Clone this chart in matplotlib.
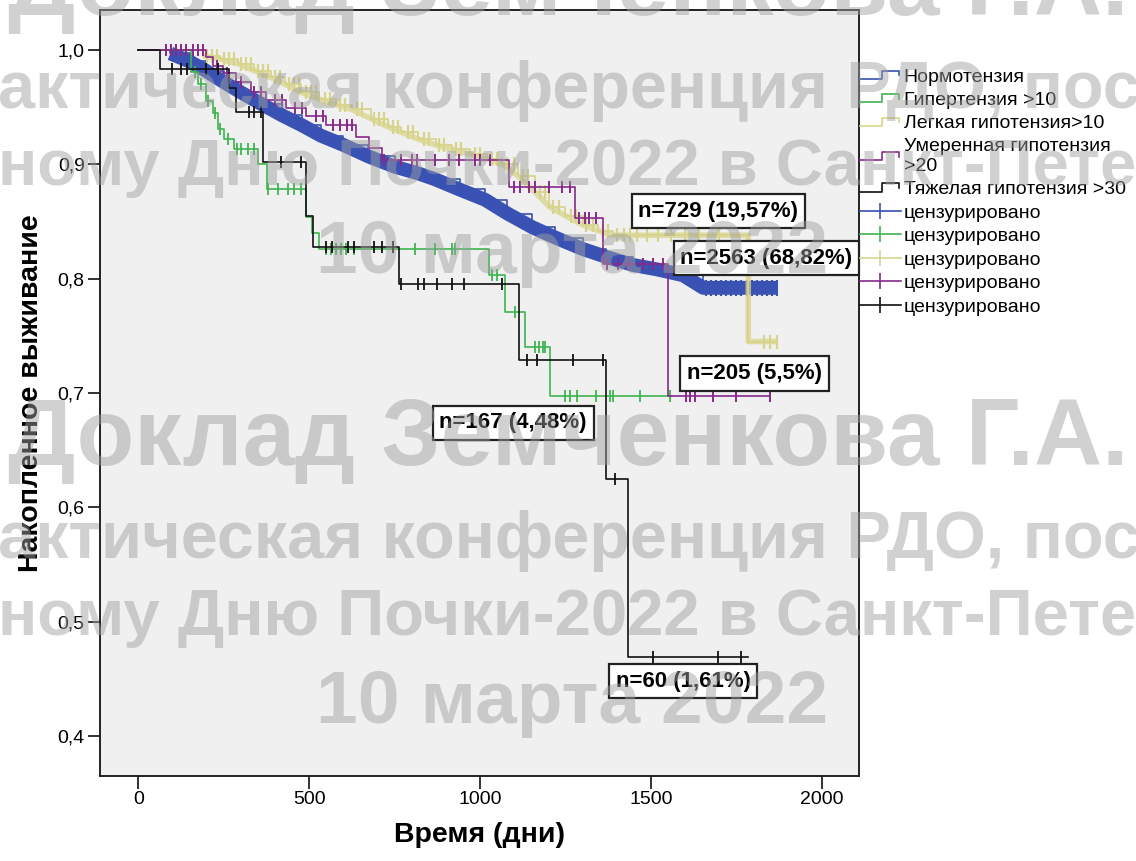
import numpy as np
import matplotlib
matplotlib.use("Agg")
import matplotlib.pyplot as plt
from matplotlib.lines import Line2D
from matplotlib.legend_handler import HandlerBase

plt.rcParams['font.family'] = ['Liberation Sans', 'DejaVu Sans']

# ---------------- data ----------------
group_names = ["Нормотензия", "Гипертензия >10", "Легкая гипотензия>10",
               "Умеренная гипотензия\n>20", "Тяжелая гипотензия >30"]
censor_label = "цензурировано"

# Нормотензия (n=2563)
normo_t = [0, 94, 150, 197, 250, 300, 359, 420, 480, 535, 600, 673, 750, 820, 868,
           940, 1015, 1080, 1153, 1220, 1300, 1370, 1447, 1520, 1594, 1653]
normo_s = [1.0, 0.997, 0.990, 0.982, 0.972, 0.963, 0.953, 0.943, 0.934, 0.925, 0.917,
           0.907, 0.898, 0.892, 0.887, 0.878, 0.869, 0.857, 0.845, 0.836, 0.826, 0.819,
           0.812, 0.808, 0.803, 0.792]
normo_end = 1868
normo_cens = [1660, 1675, 1690, 1705, 1720, 1735, 1750, 1765, 1780, 1795, 1810, 1825, 1840, 1855, 1868]

# Гипертензия >10 (n=167)
hyper_t = [0, 153, 176, 197, 218, 232, 250, 279, 350, 376, 491, 509, 529, 1026, 1073, 1132, 1206]
hyper_s = [1.0, 0.981, 0.970, 0.955, 0.945, 0.931, 0.922, 0.913, 0.900, 0.878, 0.854,
           0.840, 0.826, 0.803, 0.771, 0.740, 0.697]
hyper_end = 1560
hyper_cens = [165, 185, 205, 225, 240, 262, 290, 300, 320, 340, 379, 409, 438, 456, 476,
              550, 565, 579, 594, 609, 632, 809, 868, 918, 926, 1035, 1050, 1103,
              1162, 1173, 1185, 1191, 1250, 1262, 1285, 1338, 1379, 1388, 1468, 1556]

# Легкая гипотензия >10 (n=729)
mild_t = [0, 190, 240, 291, 340, 388, 430, 476, 530, 580, 624, 680, 730, 770, 820, 870,
          918, 970, 1020, 1065, 1110, 1160, 1203, 1250, 1300, 1345, 1388, 1785]
mild_s = [1.0, 0.995, 0.992, 0.988, 0.982, 0.976, 0.970, 0.963, 0.957, 0.952, 0.948,
          0.940, 0.933, 0.928, 0.922, 0.917, 0.913, 0.909, 0.905, 0.900, 0.890, 0.876,
          0.863, 0.855, 0.847, 0.842, 0.838, 0.745]
mild_end = 1868
mild_cens = [200, 215, 230, 250, 265, 280, 300, 315, 330, 350, 365, 380, 400, 415, 440,
             455, 470, 490, 505, 520, 545, 560, 590, 605, 640, 655, 690, 705, 720, 745,
             760, 790, 805, 835, 850, 880, 895, 930, 945, 985, 1000, 1035, 1050, 1080,
             1100, 1125, 1140, 1175, 1190, 1215, 1230, 1265, 1280, 1310, 1330, 1360,
             1375, 1400, 1420, 1440, 1460, 1490, 1520, 1560, 1600, 1640, 1700, 1830, 1850, 1868]

# Умеренная гипотензия >20 (n=205)
mod_t = [0, 197, 218, 247, 285, 329, 373, 432, 491, 550, 638, 676, 712, 1085, 1279, 1359, 1550]
mod_s = [1.0, 0.994, 0.986, 0.980, 0.972, 0.963, 0.956, 0.949, 0.942, 0.934, 0.924,
         0.914, 0.904, 0.880, 0.853, 0.813, 0.697]
mod_end = 1850
mod_cens = [80, 95, 110, 125, 140, 160, 175, 190, 230, 260, 300, 340, 360, 400, 420, 460,
            480, 520, 540, 570, 590, 610, 625, 720, 770, 800, 815, 868, 909, 938, 985,
            1000, 1029, 1100, 1118, 1144, 1162, 1203, 1241, 1262, 1291, 1306, 1320, 1338,
            1373, 1403, 1432, 1476, 1506, 1535, 1603, 1615, 1629, 1682, 1750, 1850]

# Тяжелая гипотензия >30 (n=60)
sev_t = [0, 65, 265, 285, 366, 491, 512, 763, 1115, 1368, 1432]
sev_s = [1.0, 0.983, 0.967, 0.946, 0.902, 0.855, 0.828, 0.795, 0.729, 0.625, 0.469]
sev_end = 1785
sev_cens = [100, 124, 144, 197, 232, 324, 338, 359, 418, 476, 550, 568, 615, 632, 691,
            712, 745, 768, 820, 835, 873, 918, 953, 1065, 1138, 1168, 1271, 1359, 1394,
            1506, 1697, 1765]

annot_texts = ["n=729 (19,57%)", "n=2563 (68,82%)", "n=205 (5,5%)", "n=167 (4,48%)", "n=60 (1,61%)"]

x_ticks = [0, 500, 1000, 1500, 2000]
y_ticks = [0.4, 0.5, 0.6, 0.7, 0.8, 0.9, 1.0]

wm_name = "Доклад Земченкова Г.А."
wm_line1 = "актическая конференция РДО, посвященная"
wm_line2 = "ному Дню Почки-2022 в Санкт-Петербурге"
wm_date = "10 марта 2022"

# ---------------- styles ----------------
c_blue = '#3a52b4'
c_green = '#3fb551'
c_yellow = '#d8d48c'
c_purple = '#86298a'
c_black = '#111111'

W, H = 1136, 861
fig = plt.figure(figsize=(W / 100, H / 100), dpi=100)
fig.patch.set_facecolor('white')
ax = fig.add_axes([100 / W, 1 - 776 / H, 759 / W, 766 / H])
ax.set_facecolor('#f0f0f0')


def surv_at(t, s, c):
    t = np.asarray(t, float)
    s = np.asarray(s, float)
    idx = np.searchsorted(t, np.asarray(c, float), side='right') - 1
    return s[idx]


def band_path(t, s, end, big=0.02):
    """Path of the dense-censoring band: small drops blend, big drops stay as steps."""
    bx, by = [t[1]], [s[1]]
    for i in range(2, len(t)):
        if s[i - 1] - s[i] > big:
            bx.append(t[i]); by.append(s[i - 1])
        bx.append(t[i]); by.append(s[i])
    bx.append(end); by.append(s[-1])
    return bx, by


def draw_km(t, s, end, cens, color, lw, z, ms=9, mew=1.2, band=None, band_alpha=1.0):
    tt = list(t) + [end]
    ss = list(s) + [s[-1]]
    if band is not None:
        bx, by = band_path(t, s, end)
        ax.plot(bx, by, color=color, lw=band, zorder=z, alpha=band_alpha,
                solid_joinstyle='round', solid_capstyle='butt')
    ax.plot(tt, ss, drawstyle='steps-post', color=color, lw=lw, zorder=z + 0.1)
    ax.plot(cens, surv_at(t, s, cens), ls='none', marker='|', ms=ms, mew=mew,
            color=color, zorder=z + 0.2)


draw_km(normo_t, normo_s, normo_end, normo_cens, c_blue, 1.2, 2, ms=12, mew=1.5, band=10)
draw_km(mild_t, mild_s, mild_end, mild_cens, c_yellow, 1.3, 3, ms=10, mew=1.6, band=4,
        band_alpha=0.75)
draw_km(hyper_t, hyper_s, hyper_end, hyper_cens, c_green, 1.2, 4, ms=9, mew=1.3)
draw_km(mod_t, mod_s, mod_end, mod_cens, c_purple, 1.2, 5, ms=9, mew=1.4)
draw_km(sev_t, sev_s, sev_end, sev_cens, c_black, 1.2, 6, ms=9, mew=1.3)

ax.set_xlim(-112, 2109)
ax.set_ylim(0.365, 1.035)
ax.set_xticks(x_ticks)
ax.set_xticklabels([str(v) for v in x_ticks])
ax.set_yticks(y_ticks)
ax.set_yticklabels([f"{v:.1f}".replace('.', ',') for v in y_ticks])
ax.tick_params(axis='both', direction='out', length=9, width=1.3, labelsize=14,
               color='#222222', pad=2)
for sp in ax.spines.values():
    sp.set_color('#222222')
    sp.set_linewidth(1.4)

ax.set_xlabel("Время (дни)", fontsize=20.5, fontweight='bold', labelpad=10)
ax.set_ylabel("Накопленное выживание", fontsize=20.5, fontweight='bold', labelpad=10)

# annotation boxes
annot_pos = [(1697, 0.859), (1838, 0.818), (1803, 0.717), (1097, 0.674), (1594, 0.448)]
for txt, (x, y) in zip(annot_texts, annot_pos):
    ax.text(x, y, txt, ha='center', va='center', fontsize=16, fontweight='bold',
            zorder=10,
            bbox=dict(boxstyle='square,pad=0.3', fc='white', ec='#222222', lw=1.6))


# legend
class StepHandler(HandlerBase):
    def create_artists(self, legend, orig_handle, xdescent, ydescent, width, height,
                       fontsize, trans):
        x0, y0 = -xdescent, -ydescent
        xs = [x0, x0 + 0.55 * width, x0 + 0.55 * width, x0 + 0.95 * width, x0 + 0.95 * width]
        ys = [y0 + 0.2 * height, y0 + 0.2 * height, y0 + 0.8 * height, y0 + 0.8 * height,
              y0 + 0.45 * height]
        ln = Line2D(xs, ys, color=orig_handle.get_color(), lw=1.2, transform=trans)
        return [ln]


colors = [c_blue, c_green, c_yellow, c_purple, c_black]
step_handles = [Line2D([], [], color=c) for c in colors]
cens_handles = [Line2D([], [], color=c, marker='|', ms=12, mew=1.2, lw=1.2) for c in colors]
handler_map = {h: StepHandler() for h in step_handles}
fig.legend(step_handles + cens_handles, group_names + [censor_label] * 5,
           loc='upper left', bbox_to_anchor=(860 / W, 1 - 68 / H), frameon=False,
           fontsize=14, handlelength=2.1, handletextpad=0.15, labelspacing=0.3,
           borderaxespad=0, borderpad=0, handler_map=handler_map)

# watermark
wm_kw = dict(color='#a0a0a0', alpha=0.48, fontweight='bold', zorder=50)
for off in (0, 450):
    fig.text(568 / W, 1 - (15 + off) / H, wm_name, ha='center', va='baseline', fontsize=68, **wm_kw)
    fig.text(-2 / W, 1 - (108 + off) / H, wm_line1, ha='left', va='baseline', fontsize=48, **wm_kw)
    fig.text(-2 / W, 1 - (185 + off) / H, wm_line2, ha='left', va='baseline', fontsize=47, **wm_kw)
    fig.text(572 / W, 1 - (273 + off) / H, wm_date, ha='center', va='baseline', fontsize=54, **wm_kw)

fig.savefig("out.png", dpi=100)
